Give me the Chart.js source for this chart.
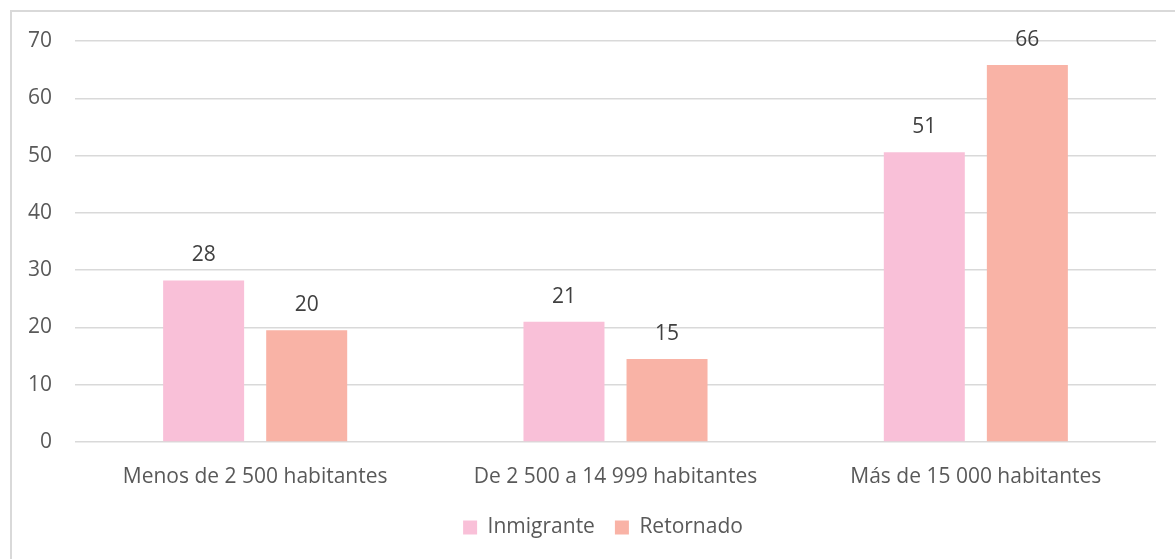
<!DOCTYPE html>
<html>
<head>
<meta charset="utf-8">
<script src="https://cdn.jsdelivr.net/npm/chart.js@4.4.1/dist/chart.umd.min.js"></script>
<style>
  html, body { margin: 0; padding: 0; background: #fff; overflow: hidden; }
  #wrap { position: absolute; left: 0; top: 0; width: 1175px; height: 559px; }
  #frame { position: absolute; left: 10px; top: 10px; width: 1200px; height: 600px; border: 2px solid #d9d9d9; box-sizing: border-box; pointer-events: none; }
  canvas { position: absolute; left: 0; top: 0; }
</style>
</head>
<body>
<div id="wrap">
  <div id="frame"></div>
  <canvas id="c" width="1175" height="559"></canvas>
</div>
<script>
const categories = ['Menos de 2 500 habitantes', 'De 2 500 a 14 999 habitantes', 'Más de 15 000 habitantes'];
const inmigrante = [28.2, 21.0, 50.6];
const retornado = [19.5, 14.5, 65.8];
const seriesNames = ['Inmigrante', 'Retornado'];
const yTicks = [0, 10, 20, 30, 40, 50, 60, 70];

const FONT = "'Open Sans', sans-serif";

const valueLabels = {
  id: 'valueLabels',
  afterDatasetsDraw(chart) {
    const ctx = chart.ctx;
    ctx.save();
    ctx.font = '21px ' + FONT;
    ctx.fillStyle = '#404040';
    ctx.textAlign = 'center';
    ctx.textBaseline = 'middle';
    chart.data.datasets.forEach((ds, i) => {
      const meta = chart.getDatasetMeta(i);
      meta.data.forEach((bar, j) => {
        ctx.fillText(String(Math.round(ds.data[j])), bar.x, bar.y - 25);
      });
    });
    ctx.restore();
  }
};

const legendShift = {
  id: 'legendShift',
  afterLayout(chart) {
    if (chart.legend) { chart.legend.left += 50; }
  }
};

new Chart(document.getElementById('c'), {
  type: 'bar',
  data: {
    labels: categories,
    datasets: [
      { label: seriesNames[0], data: inmigrante, backgroundColor: '#F9C0D8' },
      { label: seriesNames[1], data: retornado, backgroundColor: '#F9B3A6' }
    ]
  },
  options: {
    responsive: false,
    animation: false,
    devicePixelRatio: 1,
    layout: { padding: { left: 0, right: 19, top: 41, bottom: 11 } },
    datasets: { bar: { categoryPercentage: 0.572, barPercentage: 0.786 } },
    plugins: {
      legend: {
        position: 'bottom',
        labels: {
          font: { family: FONT, size: 21 },
          color: '#595959',
          boxWidth: 14,
          boxHeight: 14,
          padding: 20
        }
      },
      tooltip: { enabled: false }
    },
    scales: {
      x: {
        grid: { display: false, drawTicks: false },
        border: { display: false },
        ticks: { font: { family: FONT, size: 21 }, color: '#595959', padding: 22 },
        afterFit(s) { s.height = 55; }
      },
      y: {
        min: 0, max: 70,
        afterBuildTicks(s) { s.ticks = yTicks.map(v => ({ value: v })); },
        grid: { color: '#d9d9d9', lineWidth: 1.5, drawTicks: false },
        border: { display: false },
        ticks: { font: { family: FONT, size: 21 }, color: '#595959', padding: 23 },
        afterFit(s) { s.width = 75; }
      }
    }
  },
  plugins: [valueLabels, legendShift]
});
</script>
</body>
</html>
